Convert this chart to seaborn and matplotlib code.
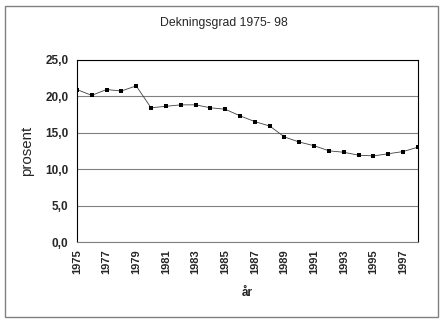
import matplotlib
matplotlib.use("Agg")
import matplotlib.pyplot as plt
from matplotlib.patches import Rectangle
from matplotlib.ticker import FuncFormatter, MultipleLocator
import seaborn as sns
import pandas as pd

years = list(range(1975, 1999))
dekningsgrad = [20.9, 20.1, 20.9, 20.7, 21.4, 18.4, 18.6, 18.8, 18.8, 18.4,
                18.2, 17.3, 16.5, 15.9, 14.4, 13.7, 13.2, 12.5, 12.3, 11.9,
                11.8, 12.1, 12.4, 13.0]
year_labels = [str(y) for y in years if (y - 1975) % 2 == 0]

df = pd.DataFrame({"år": years, "prosent": dekningsgrad})

sns.set_style("white")
plt.rcParams["font.family"] = ["Liberation Sans", "DejaVu Sans"]

fig = plt.figure(figsize=(4.47, 3.24), dpi=100)
ax = fig.add_axes([0.172, 0.253, 0.763, 0.563])

sns.lineplot(data=df, x="år", y="prosent", ax=ax, color="#404040", linewidth=0.6,
             marker="s", markersize=3.2, markerfacecolor="black",
             markeredgecolor="black", markeredgewidth=0)

ax.set_xlim(1975, 1998)
ax.set_ylim(0, 25)
ax.yaxis.set_major_locator(MultipleLocator(5))
ax.yaxis.set_major_formatter(FuncFormatter(lambda v, p: f"{v:.1f}".replace(".", ",")))
ax.set_xticks(years)
ax.set_xticklabels([str(y) if str(y) in year_labels else "" for y in years],
                   rotation=90, fontsize=8, fontweight="bold")
ax.tick_params(axis="y", labelsize=8.5, direction="out", length=3, width=0.6, pad=3)
for lab in ax.get_yticklabels():
    lab.set_fontweight("bold")
ax.tick_params(axis="x", direction="inout", length=5, width=0.6, pad=3)
ax.grid(axis="y", color="#808080", linewidth=0.8)
ax.set_axisbelow(True)

for side in ["left", "top", "right"]:
    ax.spines[side].set_color("black")
    ax.spines[side].set_linewidth(0.8)
ax.spines["bottom"].set_color("#808080")
ax.spines["bottom"].set_linewidth(0.8)

ax.set_ylabel("prosent", fontsize=10.8, labelpad=8)
ax.set_xlabel("år", fontsize=8.5, fontweight="bold", labelpad=9)
fig.text(0.5, 1 - 22.7 / 324, "Dekningsgrad 1975- 98", ha="center", va="center",
         fontsize=8.8)

fig.patches.append(Rectangle((5 / 447, 1 - 317 / 324), 433 / 447, 311 / 324,
                             transform=fig.transFigure, fill=False,
                             edgecolor="#808080", linewidth=1.0))

fig.savefig("out.png", dpi=100)
